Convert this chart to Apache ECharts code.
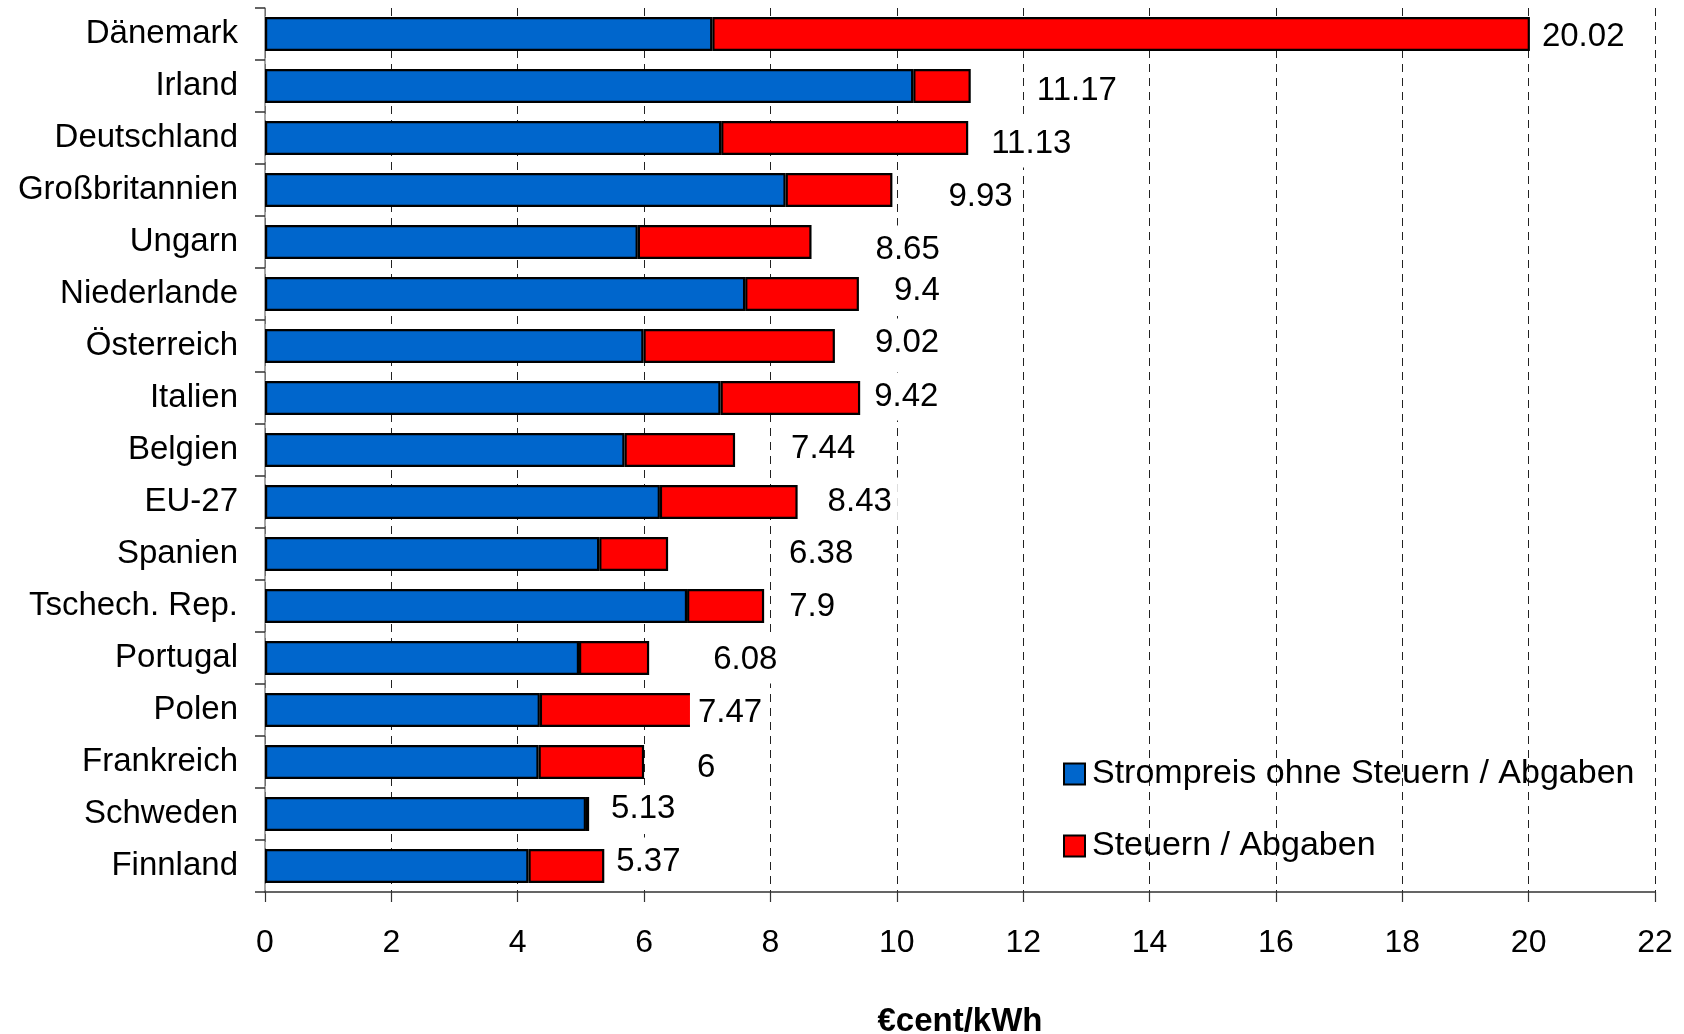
<!DOCTYPE html>
<html>
<head>
<meta charset="utf-8">
<title>Strompreise</title>
<script src="https://cdn.jsdelivr.net/npm/echarts@6/dist/echarts.min.js"></script>
<style>
  html, body { margin: 0; padding: 0; background: #fff; }
  #chart { width: 1684px; height: 1034px; }
</style>
</head>
<body>
<div id="chart"></div>
<script>
// Countries, top to bottom
const countries = [
  'Dänemark', 'Irland', 'Deutschland', 'Großbritannien', 'Ungarn', 'Niederlande',
  'Österreich', 'Italien', 'Belgien', 'EU-27', 'Spanien', 'Tschech. Rep.',
  'Portugal', 'Polen', 'Frankreich', 'Schweden', 'Finnland'
];

// Strompreis ohne Steuern / Abgaben (€cent/kWh)
const basePrice = [
  7.08, 10.26, 7.22, 8.24, 5.90, 7.60,
  5.99, 7.21, 5.69, 6.25, 5.29, 6.68,
  4.97, 4.35, 4.33, 5.08, 4.17
];

// Steuern / Abgaben (€cent/kWh)
const taxes = [
  12.94, 0.91, 3.91, 1.69, 2.75, 1.80,
  3.03, 2.21, 1.75, 2.18, 1.09, 1.22,
  1.11, 3.12, 1.67, 0.05, 1.20
];

// Gesamtpreis, as printed next to each bar
const totals = [
  20.02, 11.17, 11.13, 9.93, 8.65, 9.4,
  9.02, 9.42, 7.44, 8.43, 6.38, 7.9,
  6.08, 7.47, 6, 5.13, 5.37
];

// Value axis ticks
const xTicks = [0, 2, 4, 6, 8, 10, 12, 14, 16, 18, 20, 22];

const seriesNames = ['Strompreis ohne Steuern / Abgaben', 'Steuern / Abgaben'];
const axisTitle = '€cent/kWh';

// Hand placement of the total labels: [gap from bar end to text, vertical shift] in px
const labelNudge = [
  [12, 0], [66, 2], [23, 3], [56, 4], [64, 5], [35, -6],
  [40, -6], [14, -4], [56, -4], [30, -3], [121, -2.5], [25, -2],
  [64, -1], [-39, 0], [53, 3], [22, -7.5], [12, -7]
];

const FONT = '"Liberation Sans", Arial, sans-serif';
const LABEL_PAD_LEFT = 8;
const LABEL_BASELINE = 2.5;

const chart = echarts.init(document.getElementById('chart'), null, { renderer: 'canvas' });

chart.setOption({
  animation: false,
  backgroundColor: '#ffffff',
  textStyle: { fontFamily: FONT, color: '#000' },
  grid: { left: 265, right: 29, top: 8, bottom: 142, outerBoundsMode: 'none', containLabel: false },
  legend: {
    orient: 'vertical',
    left: 1058,
    top: 749,
    itemWidth: 21,
    itemHeight: 21,
    itemGap: 32,
    icon: 'rect',
    selectedMode: false,
    data: seriesNames,
    itemStyle: { borderColor: '#000', borderWidth: 2 },
    textStyle: { fontFamily: FONT, fontSize: 34, color: '#000', lineHeight: 40, padding: [0, 0, 0, 2] }
  },
  xAxis: {
    type: 'value',
    min: xTicks[0],
    max: xTicks[xTicks.length - 1],
    interval: xTicks[1] - xTicks[0],
    axisLine: { show: true, lineStyle: { color: '#333', width: 1.5 } },
    axisTick: { show: true, length: 10, lineStyle: { color: '#333', width: 1.2 } },
    axisLabel: { fontFamily: FONT, fontSize: 32, color: '#000', margin: 35 },
    splitLine: { show: true, lineStyle: { color: '#222', width: 1, type: [8, 6] } },
    name: axisTitle,
    nameLocation: 'middle',
    nameGap: 113,
    nameTextStyle: { fontFamily: FONT, fontSize: 33, fontWeight: 'bold', color: '#000' }
  },
  yAxis: {
    type: 'category',
    data: countries,
    inverse: true,
    axisLine: { show: true, lineStyle: { color: '#888', width: 1.5 } },
    axisTick: { show: true, length: 10, lineStyle: { color: '#333', width: 1.5 } },
    axisLabel: { fontFamily: FONT, fontSize: 33, color: '#000', margin: 27, lineHeight: 38, padding: [4, 0, 0, 0] },
    splitLine: { show: false }
  },
  series: [
    {
      name: seriesNames[0],
      type: 'bar',
      stack: 'total',
      barWidth: 34,
      data: basePrice,
      itemStyle: { color: '#0066CC', borderColor: '#000', borderWidth: 2.2 }
    },
    {
      name: seriesNames[1],
      type: 'bar',
      stack: 'total',
      barWidth: 34,
      data: taxes.map((v, i) => ({
        value: v,
        label: { offset: [labelNudge[i][0] - LABEL_PAD_LEFT, labelNudge[i][1] + LABEL_BASELINE] }
      })),
      itemStyle: { color: '#FF0000', borderColor: '#000', borderWidth: 2.2 },
      label: {
        show: true,
        position: 'right',
        distance: 0,
        formatter: p => String(totals[p.dataIndex]),
        fontFamily: FONT,
        fontSize: 33,
        color: '#000',
        lineHeight: 38,
        backgroundColor: '#fff',
        padding: [5, 6, 5, LABEL_PAD_LEFT]
      }
    }
  ]
});
</script>
</body>
</html>
